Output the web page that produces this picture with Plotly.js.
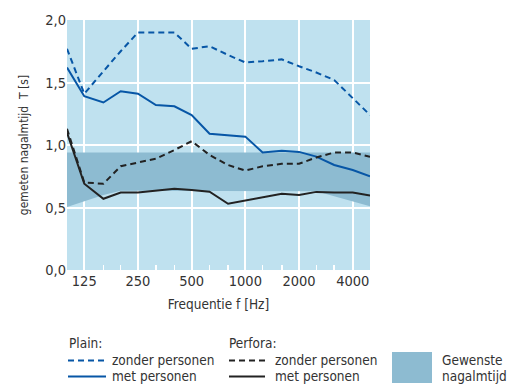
<!DOCTYPE html>
<html>
<head>
<meta charset="utf-8">
<script src="https://cdn.plot.ly/plotly-3.0.1.min.js"></script>
<style>
html,body{margin:0;padding:0;background:#fff;}
#chart{width:508px;height:385px;}
</style>
</head>
<body>
<div id="chart"></div>
<script>
// third-octave band centre frequencies (Hz)
const freqs = [100,125,160,200,250,315,400,500,630,800,1000,1250,1600,2000,2500,3150,4000,5000];

// Plain ceiling
const plainZonder = [1.77,1.41,1.59,1.75,1.90,1.90,1.90,1.77,1.79,1.72,1.66,1.67,1.685,1.63,1.58,1.52,1.375,1.24];
const plainMet    = [1.62,1.39,1.34,1.43,1.41,1.32,1.31,1.24,1.09,1.08,1.067,0.94,0.955,0.945,0.907,0.84,0.80,0.75];

// Perfora ceiling
const perforaZonder = [1.13,0.70,0.69,0.83,0.86,0.89,0.96,1.03,0.92,0.84,0.795,0.83,0.85,0.85,0.90,0.94,0.94,0.905];
const perforaMet    = [1.10,0.69,0.57,0.62,0.62,0.635,0.65,0.64,0.626,0.53,0.555,0.58,0.61,0.60,0.625,0.62,0.62,0.595];

// desired reverberation time band
const desiredUpper = [0.94,0.94,0.94,0.94,0.94,0.94,0.94,0.94,0.94,0.94,0.94,0.94,0.94,0.94,0.94,0.94,0.94,0.94];
const desiredLower = [0.505,0.55,0.60,0.635,0.635,0.635,0.635,0.635,0.635,0.635,0.635,0.635,0.635,0.635,0.63,0.59,0.55,0.51];

// axis ticks
const xTickVals = [125,250,500,1000,2000,4000];
const xTickText = ['125','250','500','1000','2000','4000'];
const xMinorVals = [160,200,315,400,630,800,1250,1600,2500,3150];
const yTickVals = [0,0.5,1.0,1.5,2.0];
const yTickText = ['0,0','0,5','1,0','1,5','2,0'];

const FONT = '"Liberation Sans Narrow", "DejaVu Sans Condensed", "Liberation Sans", sans-serif';
const BLUE = '#0756a6';
const BLACK = '#222222';
const BAND = '#8dbbd1';
const BG = '#bfe1ef';

const traces = [
  {x: freqs, y: desiredLower, mode:'lines', line:{width:0, color:BAND}, hoverinfo:'skip', showlegend:false},
  {x: freqs, y: desiredUpper, mode:'lines', line:{width:0, color:BAND}, fill:'tonexty', fillcolor:BAND, hoverinfo:'skip', showlegend:false},
  {x: freqs, y: plainZonder, mode:'lines', line:{color:BLUE, width:2, dash:'6px,4px'}, showlegend:false},
  {x: freqs, y: plainMet, mode:'lines', line:{color:BLUE, width:2}, showlegend:false},
  {x: freqs, y: perforaZonder, mode:'lines', line:{color:BLACK, width:2, dash:'6px,4px'}, showlegend:false},
  {x: freqs, y: perforaMet, mode:'lines', line:{color:BLACK, width:2}, showlegend:false}
];

const legendText = {size:13.5, color:'#333', family:FONT};
const W = 508, H = 385, L = 67, R = 138, T = 20, B = 115;
const pw = W - L - R, ph = H - T - B;
function px(x){ return (x - L) / pw; }
function py(y){ return (H - B - y) / ph; }
const shapes = [];
shapes.push({type:'line', xref:'paper', yref:'paper', x0:px(68), x1:px(106), y0:py(360.5), y1:py(360.5), line:{color:BLUE, width:2, dash:'6px,4px'}});
shapes.push({type:'line', xref:'paper', yref:'paper', x0:px(68), x1:px(106), y0:py(376.5), y1:py(376.5), line:{color:BLUE, width:2}});
shapes.push({type:'line', xref:'paper', yref:'paper', x0:px(229), x1:px(265), y0:py(360.5), y1:py(360.5), line:{color:BLACK, width:2, dash:'6px,4px'}});
shapes.push({type:'line', xref:'paper', yref:'paper', x0:px(229), x1:px(265), y0:py(376.5), y1:py(376.5), line:{color:BLACK, width:2}});
shapes.push({type:'rect', xref:'paper', yref:'paper', x0:px(392), x1:px(432), y0:py(352), y1:py(383), line:{width:0}, fillcolor:BAND});

function ann(text, x, y){
  return {text:text, xref:'paper', yref:'paper', x:px(x), y:py(y), xanchor:'left', yanchor:'middle', showarrow:false, font:legendText};
}
const annotations = [
  ann('Plain:', 67, 343),
  ann('zonder personen', 110, 360),
  ann('met personen', 110, 376),
  ann('Perfora:', 227, 343),
  ann('zonder personen', 273, 360),
  ann('met personen', 273, 376),
  ann('Gewenste', 440, 360),
  ann('nagalmtijd', 440, 376)
];

const layout = {
  width: W, height: H,
  margin: {l:L, r:R, t:T, b:B},
  paper_bgcolor:'#ffffff',
  plot_bgcolor: BG,
  font:{family:FONT, color:'#333', size:14},
  showlegend:false,
  xaxis:{
    type:'log',
    range:[Math.log10(100), Math.log10(5000)],
    tickmode:'array', tickvals:xTickVals, ticktext:xTickText,
    showgrid:true, gridcolor:'#ffffff', gridwidth:2,
    ticks:'', showline:false, zeroline:false,
    tickfont:{size:14.5, color:'#333', family:FONT},
    minor:{tickmode:'array', tickvals:xMinorVals, ticks:'inside', ticklen:5, tickwidth:1.5, tickcolor:'#ffffff', showgrid:false},
    title:{text:'Frequentie f [Hz]', font:{size:13.5, color:'#333', family:FONT}, standoff:12},
    fixedrange:true
  },
  yaxis:{
    range:[0,2],
    tickmode:'array', tickvals:yTickVals, ticktext:yTickText,
    showgrid:true, gridcolor:'#ffffff', gridwidth:2,
    ticks:'', showline:false, zeroline:false,
    tickfont:{size:14.5, color:'#333', family:FONT},
    title:{text:'gemeten nagalmtijd  T [s]', font:{size:12, color:'#333', family:FONT}, standoff:14},
    fixedrange:true
  },
  shapes: shapes,
  annotations: annotations
};

Plotly.newPlot('chart', traces, layout, {staticPlot:true, displayModeBar:false});
</script>
</body>
</html>
